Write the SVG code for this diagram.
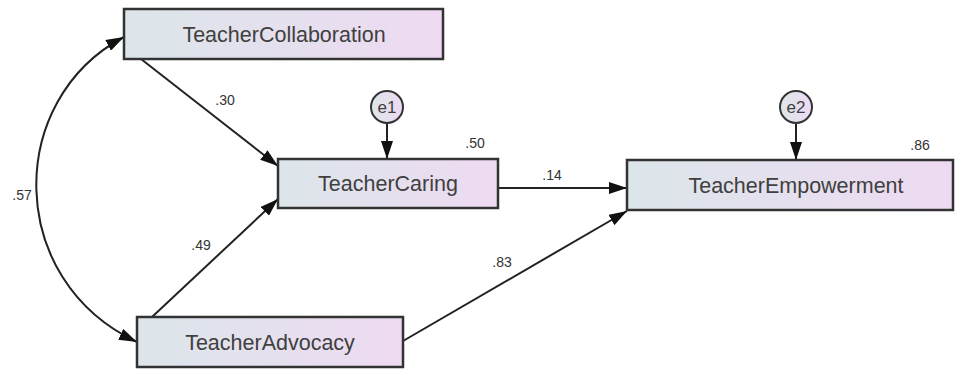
<svg xmlns="http://www.w3.org/2000/svg" width="956" height="370" viewBox="0 0 956 370">
<defs>
<linearGradient id="g" x1="0" y1="0" x2="1" y2="0">
<stop offset="0" stop-color="#dce6ea"/>
<stop offset="1" stop-color="#eedaf2"/>
</linearGradient>
<marker id="ah" viewBox="0 0 18 12" markerWidth="18" markerHeight="12" refX="18" refY="6" orient="auto-start-reverse" markerUnits="userSpaceOnUse">
<path d="M0,0 L18,6 L0,12 z" fill="#111"/>
</marker>
<style>
.box{fill:url(#g);stroke:#333;stroke-width:2.5}
.err{fill:url(#g);stroke:#333;stroke-width:2}
.lbl{font-family:"Liberation Sans",Arial,sans-serif;font-size:21.5px;fill:#404040;text-anchor:middle}
.elbl{font-family:"Liberation Sans",Arial,sans-serif;font-size:17px;fill:#404040;text-anchor:middle}
.num{font-family:"Liberation Sans",Arial,sans-serif;font-size:14px;fill:#333;text-anchor:middle}
.c{fill:none;stroke:#222;stroke-width:2;marker-end:url(#ah)}
</style>
</defs>
<g id="connectors">
<path class="c" d="M141,59 L278,166"/>
<path class="c" d="M152,317 L278,199"/>
<path class="c" d="M498,188 L627,188"/>
<path class="c" d="M403,341 L627,211"/>
<path class="c" d="M387,123 L387,159"/>
<path class="c" d="M796,123 L796,160"/>
<path class="c" style="marker-start:url(#ah)" d="M124,37 C5,100 5,280 137,342"/>
</g>
<g id="labels">
<text class="num" x="225" y="105">.30</text>
<text class="num" x="475" y="148">.50</text>
<text class="num" x="552" y="180">.14</text>
<text class="num" x="920" y="150">.86</text>
<text class="num" x="22" y="200">.57</text>
<text class="num" x="201" y="250">.49</text>
<text class="num" x="502" y="267">.83</text>
</g>
<g id="TeacherCollaboration">
<rect class="box" x="124" y="9" width="319" height="50"/>
<text class="lbl" x="284" y="42">TeacherCollaboration</text>
</g>
<g id="TeacherCaring">
<rect class="box" x="278" y="159" width="220" height="49"/>
<text class="lbl" x="388" y="191">TeacherCaring</text>
</g>
<g id="TeacherEmpowerment">
<rect class="box" x="627" y="160" width="326" height="50"/>
<text class="lbl" x="796" y="193">TeacherEmpowerment</text>
</g>
<g id="TeacherAdvocacy">
<rect class="box" x="137" y="317" width="266" height="50"/>
<text class="lbl" x="270" y="350">TeacherAdvocacy</text>
</g>
<g id="e1">
<circle class="err" cx="387" cy="107" r="16"/>
<text class="elbl" x="387" y="113">e1</text>
</g>
<g id="e2">
<circle class="err" cx="796" cy="107" r="16"/>
<text class="elbl" x="796" y="113">e2</text>
</g>
</svg>
